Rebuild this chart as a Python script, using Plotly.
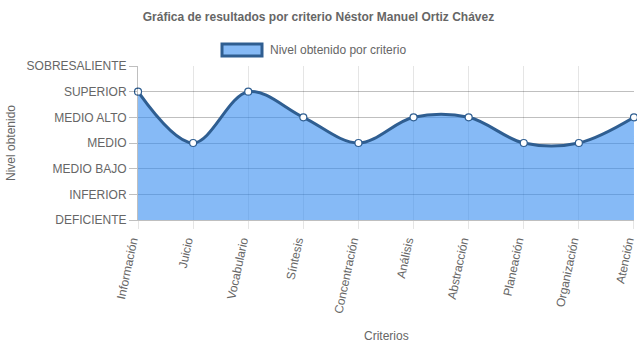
import plotly.graph_objects as go

# Criteria evaluated and the level reached in each
criterios = ["Información", "Juicio", "Vocabulario", "Síntesis", "Concentración",
             "Análisis", "Abstracción", "Planeación", "Organización", "Atención"]
niveles = ["DEFICIENTE", "INFERIOR", "MEDIO BAJO", "MEDIO", "MEDIO ALTO",
           "SUPERIOR", "SOBRESALIENTE"]
nivel_obtenido = ["SUPERIOR", "MEDIO", "SUPERIOR", "MEDIO ALTO", "MEDIO",
                  "MEDIO ALTO", "MEDIO ALTO", "MEDIO", "MEDIO", "MEDIO ALTO"]

valores = [niveles.index(n) for n in nivel_obtenido]
xs = list(range(len(criterios)))

FONT = "Liberation Sans, Arial, Helvetica, sans-serif"
GREY = "#666666"
LINE = "#2f5e91"
FILL = "rgba(54,140,240,0.6)"

# plot area in pixels
L, R, T, B = 138, 3, 66, 128
W, H = 637, 348
PW, PH = W - L - R, H - T - B


def px_x(x):
    return (x - L) / PW


def px_y(y):
    return (H - B - y) / PH


fig = go.Figure()
fig.add_trace(go.Scatter(
    x=xs, y=valores, mode="lines+markers",
    line=dict(color=LINE, width=3, shape="spline", smoothing=1.0),
    fill="tozeroy", fillcolor=FILL,
    marker=dict(size=7, color="white", line=dict(color=LINE, width=1.2)),
    cliponaxis=False, showlegend=False,
    name="Nivel obtenido por criterio",
))

fig.update_layout(
    width=W, height=H,
    margin=dict(l=L, r=R, t=T, b=B, autoexpand=False),
    paper_bgcolor="white", plot_bgcolor="white",
    font=dict(family=FONT, size=12, color=GREY),
    title=dict(text="<b>Gráfica de resultados por criterio Néstor Manuel Ortiz Chávez</b>",
               x=0.5, xanchor="center", y=1 - 17 / H, yanchor="middle",
               font=dict(size=12, color=GREY, family=FONT)),
    xaxis=dict(
        range=[-0.0005, len(criterios) - 1 + 0.0005],
        tickmode="array", tickvals=xs, ticktext=criterios, tickangle=-78,
        ticklabeloverflow="allow", automargin=False, ticklabelshift=-6,
        showgrid=True, gridcolor="rgba(0,0,0,0.1)", gridwidth=1,
        ticks="outside", ticklen=8, tickcolor="rgba(0,0,0,0.1)",
        showline=True, linecolor="rgba(0,0,0,0.25)", linewidth=1,
        zeroline=False,
        tickfont=dict(size=12, color=GREY),
    ),
    yaxis=dict(
        range=[0, len(niveles) - 1],
        tickmode="array", tickvals=list(range(len(niveles))), ticktext=niveles,
        automargin=False,
        showgrid=True, gridcolor="rgba(0,0,0,0.25)", gridwidth=1,
        ticks="outside", ticklen=8, tickcolor="rgba(0,0,0,0.25)",
        showline=True, linecolor="rgba(0,0,0,0.25)", linewidth=1,
        zeroline=False,
        tickfont=dict(size=12, color=GREY),
    ),
)

# Axis titles
fig.add_annotation(text="Criterios", xref="paper", yref="paper",
                   x=px_x(386), y=px_y(336), xanchor="center", yanchor="middle",
                   showarrow=False, font=dict(size=12, color=GREY))
fig.add_annotation(text="Nivel obtenido", xref="paper", yref="paper",
                   x=px_x(11), y=px_y(143), xanchor="center", yanchor="middle",
                   textangle=-90, showarrow=False, font=dict(size=12, color=GREY))

# Legend box drawn in the Chart.js style: filled rectangle with a thick border
fig.add_shape(type="rect", xref="paper", yref="paper",
              x0=px_x(222), x1=px_x(262), y0=px_y(56), y1=px_y(44),
              fillcolor=FILL, line=dict(color=LINE, width=3))
fig.add_annotation(text="Nivel obtenido por criterio", xref="paper", yref="paper",
                   x=px_x(268), y=px_y(50),
                   xanchor="left", yanchor="middle", showarrow=False,
                   font=dict(size=12, color=GREY))

fig.write_html("out.html")
